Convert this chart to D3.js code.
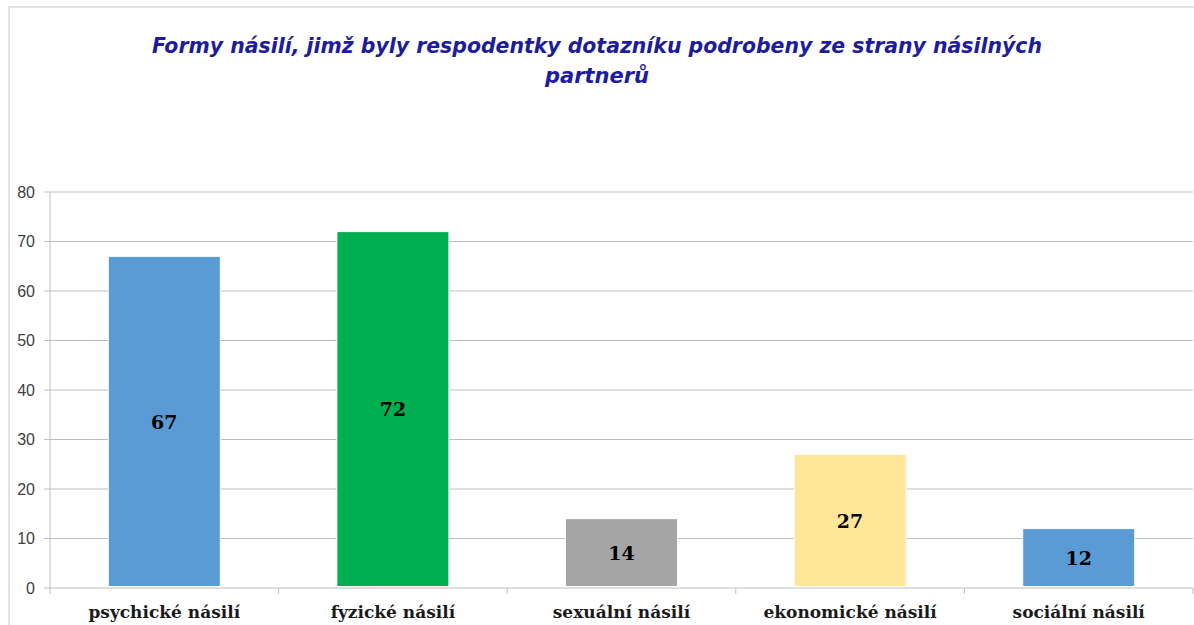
<!DOCTYPE html>
<html>
<head>
<meta charset="utf-8">
<script src="https://cdn.jsdelivr.net/npm/d3@7"></script>
<style>
  body { margin: 0; background: #fff; }
  svg { display: block; }
</style>
</head>
<body>
<svg id="chart" width="1194" height="625"></svg>
<script>
// data
var categories = ["psychické násilí", "fyzické násilí", "sexuální násilí", "ekonomické násilí", "sociální násilí"];
var values = [67, 72, 14, 27, 12];
var barColors = ["#5b9bd5", "#00b050", "#a5a5a5", "#ffe699", "#5b9bd5"];
var yTicks = [0, 10, 20, 30, 40, 50, 60, 70, 80];
var titleLines = ["Formy násilí, jimž byly respodentky dotazníku podrobeny ze strany násilných", "partnerů"];

var svg = d3.select("#chart"),
    width = +svg.attr("width"),
    height = +svg.attr("height");

var plot = { left: 50, right: 1193, top: 192, bottom: 588 };

// chart frame
svg.append("rect")
    .attr("x", 9).attr("y", 7)
    .attr("width", width + 10).attr("height", height + 10)
    .attr("fill", "none")
    .attr("stroke", "#d9d9d9")
    .attr("stroke-width", 1.5);

var x = d3.scaleBand()
    .domain(categories)
    .range([plot.left, plot.right])
    .padding(0);

var y = d3.scaleLinear()
    .domain([0, 80])
    .range([plot.bottom, plot.top]);

// gridlines
svg.append("g")
    .selectAll("line")
    .data(yTicks)
    .enter().append("line")
    .attr("x1", plot.left - 6)
    .attr("x2", plot.right)
    .attr("y1", function(d) { return y(d); })
    .attr("y2", function(d) { return y(d); })
    .attr("stroke", "#bfbfbf")
    .attr("stroke-width", 1);

// y axis line
svg.append("line")
    .attr("x1", plot.left).attr("x2", plot.left)
    .attr("y1", plot.top).attr("y2", plot.bottom)
    .attr("stroke", "#bfbfbf");

// category ticks below zero line
var bounds = categories.map(function(c) { return x(c); }).concat([plot.right]);
svg.append("g")
    .selectAll("line")
    .data(bounds)
    .enter().append("line")
    .attr("x1", function(d) { return d; })
    .attr("x2", function(d) { return d; })
    .attr("y1", plot.bottom)
    .attr("y2", plot.bottom + 6)
    .attr("stroke", "#bfbfbf");

// y tick labels
svg.append("g")
    .selectAll("text")
    .data(yTicks)
    .enter().append("text")
    .attr("x", 35)
    .attr("y", function(d) { return y(d); })
    .attr("dy", "0.35em")
    .attr("text-anchor", "end")
    .style("font-family", "'Liberation Sans', Arial, sans-serif")
    .style("font-size", "16px")
    .style("fill", "#404040")
    .text(function(d) { return d; });

// bars
var barW = x.bandwidth() * 0.49;
var bars = svg.append("g")
    .selectAll("g")
    .data(values)
    .enter().append("g");

bars.append("rect")
    .attr("x", function(d, i) { return x(categories[i]) + (x.bandwidth() - barW) / 2; })
    .attr("y", function(d) { return y(d); })
    .attr("width", barW)
    .attr("height", function(d) { return y(0) - y(d) - 1.5; })
    .attr("fill", function(d, i) { return barColors[i]; })
    .attr("stroke", "#ffffff")
    .attr("stroke-width", 1);

bars.append("text")
    .attr("x", function(d, i) { return x(categories[i]) + x.bandwidth() / 2; })
    .attr("y", function(d) { return (y(d) + y(0)) / 2; })
    .attr("dy", "0.35em")
    .attr("text-anchor", "middle")
    .style("font-family", "'DejaVu Serif', 'Liberation Serif', serif")
    .style("font-weight", "bold")
    .style("font-size", "19px")
    .style("fill", "#000")
    .text(function(d) { return d; });

// category labels
svg.append("g")
    .selectAll("text")
    .data(categories)
    .enter().append("text")
    .attr("x", function(d) { return x(d) + x.bandwidth() / 2; })
    .attr("y", 618)
    .attr("text-anchor", "middle")
    .style("font-family", "'DejaVu Serif', 'Liberation Serif', serif")
    .style("font-weight", "bold")
    .style("font-size", "17px")
    .style("fill", "#1a1a1a")
    .text(function(d) { return d; });

// title
svg.append("g")
    .selectAll("text")
    .data(titleLines)
    .enter().append("text")
    .attr("x", 597)
    .attr("y", function(d, i) { return 53 + i * 30; })
    .attr("text-anchor", "middle")
    .attr("textLength", function(d, i) { return i === 0 ? 890 : null; })
    .attr("lengthAdjust", "spacingAndGlyphs")
    .style("font-family", "'DejaVu Sans', Verdana, sans-serif")
    .style("font-weight", "bold")
    .style("font-style", "italic")
    .style("font-size", "21px")
    .style("fill", "#1c1c9c")
    .text(function(d) { return d; });
</script>
</body>
</html>
